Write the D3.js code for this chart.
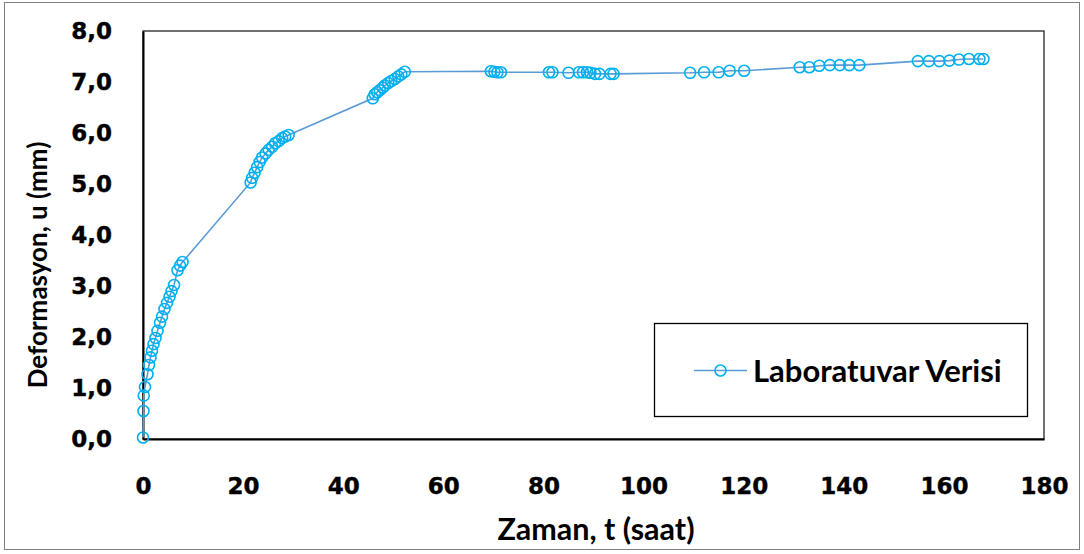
<!DOCTYPE html>
<html>
<head>
<meta charset="utf-8">
<script src="https://cdn.jsdelivr.net/npm/d3@7"></script>
<style>
  html, body { margin: 0; padding: 0; background: #fff; }
  svg { display: block; }
</style>
</head>
<body>
<svg id="chart" width="1084" height="554"></svg>
<script>
// ---- Data ----
const seriesName = "Laboratuvar Verisi";
const timeHours = [
  0, 0.1, 0.15, 0.4, 0.9, 1.2, 1.5, 1.8, 2.1, 2.5, 2.9, 3.4, 3.8, 4.3, 4.8, 5.3, 5.7, 6.2, 6.9, 7.4, 7.9,
  21.5, 21.8, 22.3, 22.8, 23.3, 23.8, 24.5, 25.1, 25.8, 26.4, 27.1, 27.8, 28.4, 29.1,
  45.9, 46.3, 46.8, 47.3, 47.9, 48.3, 49.0, 49.6, 50.3, 51.0, 51.6, 52.3,
  69.5, 70.2, 70.8, 71.5, 81.1, 81.8, 85.0, 87.1, 87.9, 88.7, 89.4, 90.3, 91.2, 93.4, 94.0,
  109.3, 112.1, 115.0, 117.2, 120.1,
  131.2, 133.1, 135.1, 137.2, 139.2, 141.1, 143.1,
  154.8, 157.0, 159.1, 161.1, 163.0, 165.0, 167.1, 167.9
];
const deformationMm = [
  0.03, 0.55, 0.85, 1.02, 1.27, 1.45, 1.6, 1.73, 1.86, 1.98, 2.12, 2.28, 2.4, 2.55, 2.67, 2.79, 2.9, 3.02, 3.31, 3.4, 3.47,
  5.03, 5.12, 5.22, 5.33, 5.43, 5.52, 5.6, 5.67, 5.73, 5.8, 5.84, 5.9, 5.93, 5.96,
  6.68, 6.76, 6.8, 6.84, 6.89, 6.93, 6.98, 7.02, 7.06, 7.11, 7.15, 7.2,
  7.21, 7.2, 7.19, 7.19, 7.19, 7.19, 7.18, 7.19, 7.19, 7.19, 7.18, 7.16, 7.16, 7.16, 7.16,
  7.18, 7.19, 7.19, 7.22, 7.22,
  7.29, 7.29, 7.32, 7.33, 7.33, 7.33, 7.33,
  7.41, 7.41, 7.41, 7.42, 7.44, 7.45, 7.45, 7.45
];
const xTicks = [0, 20, 40, 60, 80, 100, 120, 140, 160, 180];
const yTicks = [0, 1, 2, 3, 4, 5, 6, 7, 8];
const xTitle = "Zaman, t (saat)";
const yTitle = "Deformasyon, u (mm)";

// ---- Layout ----
const svg = d3.select("#chart");
const plot = { left: 143, right: 1044, top: 31, bottom: 439 };
const lineColor = "#5B9BD5";
const markerColor = "#00B0F0";
const tickFont = "'DejaVu Sans', sans-serif";
const titleFont = "Lato, 'Open Sans', sans-serif";

const x = d3.scaleLinear().domain([0, 180]).range([plot.left, plot.right]);
const y = d3.scaleLinear().domain([0, 8]).range([plot.bottom, plot.top]);
const locale = d3.formatLocale({ decimal: ",", thousands: ".", grouping: [3], currency: ["", ""] });
const fmtY = locale.format(".1f");

// Outer chart frame
svg.append("rect")
  .attr("x", 4.5).attr("y", 2.5).attr("width", 1075).attr("height", 547)
  .attr("fill", "#fff").attr("stroke", "#7f7f7f").attr("stroke-width", 1);

// Plot area border
svg.append("rect")
  .attr("x", plot.left).attr("y", plot.top)
  .attr("width", plot.right - plot.left).attr("height", plot.bottom - plot.top)
  .attr("fill", "none").attr("stroke", "#262626").attr("stroke-width", 1.3);

// Axes
const xAxis = d3.axisBottom(x).tickValues(xTicks).tickSize(0).tickPadding(34).tickFormat(d3.format("d"));
const yAxis = d3.axisLeft(y).tickValues(yTicks).tickSize(0).tickPadding(31).tickFormat(fmtY);

const gx = svg.append("g").attr("transform", `translate(0,${plot.bottom})`).call(xAxis);
const gy = svg.append("g").attr("transform", `translate(${plot.left},0)`).call(yAxis);

[gx, gy].forEach(g => {
  g.select(".domain").attr("stroke", "#000").attr("stroke-width", 2);
  g.selectAll("text")
    .attr("font-family", tickFont)
    .attr("font-weight", "bold")
    .attr("font-size", 23)
    .attr("fill", "#000")
    .attr("stroke", "#000")
    .attr("stroke-width", 0.4);
});
gx.selectAll("text").attr("dy", "0.35em").attr("y", 47);

// Axis titles
svg.append("text")
  .attr("x", 596).attr("y", 540)
  .attr("text-anchor", "middle")
  .attr("font-family", titleFont).attr("font-weight", "bold").attr("font-size", 30.5)
  .attr("fill", "#000")
  .text(xTitle);

svg.append("text")
  .attr("transform", "translate(47,265) rotate(-90)")
  .attr("text-anchor", "middle")
  .attr("font-family", titleFont).attr("font-weight", "bold").attr("font-size", 26)
  .attr("fill", "#000")
  .text(yTitle);

// Series
const data = timeHours.map((t, i) => ({ t, u: deformationMm[i] }));
const line = d3.line().x(d => x(d.t)).y(d => y(d.u));

svg.append("path")
  .datum(data)
  .attr("d", line)
  .attr("fill", "none")
  .attr("stroke", lineColor)
  .attr("stroke-width", 1.6);

svg.append("g").selectAll("circle")
  .data(data)
  .join("circle")
  .attr("cx", d => x(d.t))
  .attr("cy", d => y(d.u))
  .attr("r", 5.5)
  .attr("fill", "none")
  .attr("stroke", markerColor)
  .attr("stroke-width", 1.6);

// Legend
const lg = svg.append("g");
lg.append("rect")
  .attr("x", 654.5).attr("y", 323.5).attr("width", 373).attr("height", 93)
  .attr("fill", "#fff").attr("stroke", "#000").attr("stroke-width", 1.3);
lg.append("line")
  .attr("x1", 694).attr("x2", 747).attr("y1", 370.5).attr("y2", 370.5)
  .attr("stroke", lineColor).attr("stroke-width", 1.6);
lg.append("circle")
  .attr("cx", 720.5).attr("cy", 370.5).attr("r", 5.5)
  .attr("fill", "none").attr("stroke", markerColor).attr("stroke-width", 1.6);
lg.append("text")
  .attr("x", 753).attr("y", 381.5)
  .attr("font-family", titleFont).attr("font-weight", "bold").attr("font-size", 31)
  .attr("fill", "#000")
  .text(seriesName);
</script>
</body>
</html>
